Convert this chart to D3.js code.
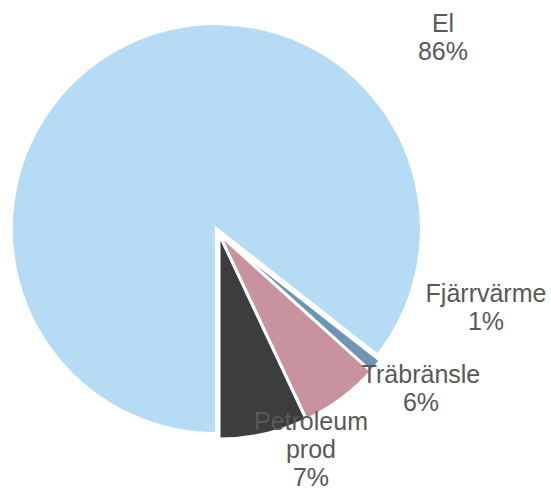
<!DOCTYPE html>
<html>
<head>
<meta charset="utf-8">
<script src="https://cdn.jsdelivr.net/npm/d3@7"></script>
<style>
  body { margin: 0; background: #fff; }
  svg { display: block; }
</style>
</head>
<body>
<div id="chart"></div>
<script>
// slice order clockwise, starting at 6 o'clock
var categories = ["El", "Fjärrvärme", "Träbränsle", "Petroleum prod"];
var values = [85.6, 1.1, 6.3, 7.0];
var colors = ["#b5dbf5", "#6f95b2", "#c9929f", "#3c3d3f"];
var labelLines = [["El", "86%"], ["Fjärrvärme", "1%"], ["Träbränsle", "6%"], ["Petroleum", "prod", "7%"]];
// label anchor (centre of first baseline)
var labelPos = [[443, 32], [486, 302], [421, 383], [311, 430]];

var width = 551, height = 491;
var cx = 219, cy = 234, radius = 205;

var svg = d3.select("#chart")
    .append("svg")
    .attr("width", width)
    .attr("height", height);

var data = categories.map(function(c, i) { return {key: c, value: values[i], i: i}; });

var pie = d3.pie()
    .sort(null)
    .value(function(d) { return d.value; })
    .startAngle(Math.PI)
    .endAngle(Math.PI * 3);

var arcs = pie(data);

var arc = d3.arc()
    .innerRadius(0)
    .outerRadius(radius);

var g = svg.append("g")
    .attr("transform", "translate(" + cx + "," + cy + ")");

// El is pulled out a little from the centre
var explode = [6, 0, 0, 0];

g.selectAll("path")
    .data(arcs)
    .enter()
    .append("path")
    .attr("d", arc)
    .attr("fill", function(d) { return colors[d.data.i]; })
    .attr("stroke", "#fff")
    .attr("stroke-width", 3)
    .attr("stroke-linejoin", "miter")
    .attr("transform", function(d) {
        var a = (d.startAngle + d.endAngle) / 2;
        var e = explode[d.data.i];
        return "translate(" + (Math.sin(a) * e) + "," + (-Math.cos(a) * e) + ")";
    });

// labels
var lab = svg.selectAll("text.lab")
    .data(data)
    .enter()
    .append("text")
    .attr("class", "lab")
    .attr("text-anchor", "middle")
    .style("font-family", "Liberation Sans, Arial, sans-serif")
    .style("font-size", "25px")
    .style("fill", "#595959");

lab.each(function(d) {
    var t = d3.select(this);
    var p = labelPos[d.i];
    labelLines[d.i].forEach(function(line, j) {
        t.append("tspan")
            .attr("x", p[0])
            .attr("y", p[1] + j * 28)
            .text(line);
    });
});
</script>
</body>
</html>
